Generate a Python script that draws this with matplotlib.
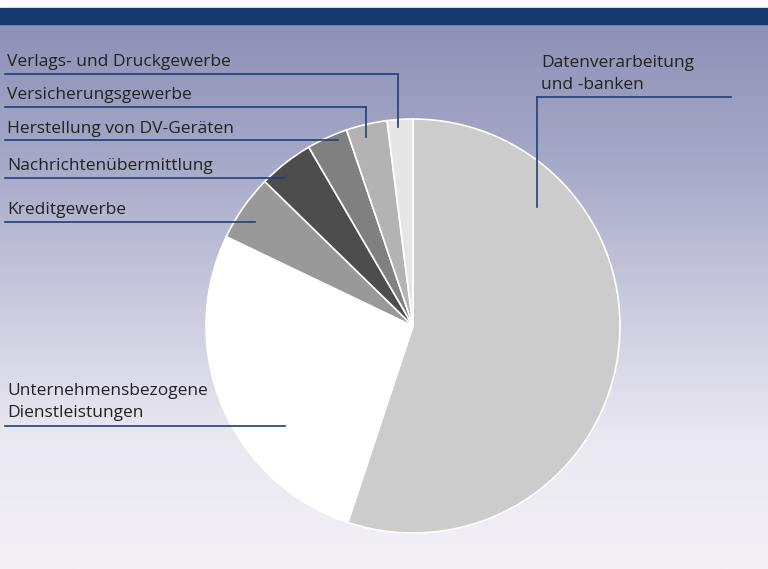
import numpy as np
import matplotlib.pyplot as plt
from matplotlib.colors import LinearSegmentedColormap

plt.rcParams['font.family'] = ['Open Sans', 'DejaVu Sans']

# Anteile (Prozent), im Uhrzeigersinn ab 12 Uhr
branchen = ["Datenverarbeitung\nund -banken", "Unternehmensbezogene\nDienstleistungen",
            "Kreditgewerbe", "Nachrichtenübermittlung", "Herstellung von DV-Geräten",
            "Versicherungsgewerbe", "Verlags- und Druckgewerbe"]
anteile = [55.1, 27.0, 5.2, 4.3, 3.2, 3.2, 2.0]
farben = ["#cccccc", "#ffffff", "#999999", "#4d4d4d", "#808080", "#b3b3b3", "#e6e6e6"]

W, H = 768, 569
fig = plt.figure(figsize=(W / 100, H / 100), dpi=100)
ax = fig.add_axes([0, 0, 1, 1])

# hintergrund: verlauf blaugrau -> fast weiss
bg = LinearSegmentedColormap.from_list("bg", ["#8e91b6", "#a6a8c8", "#c9c9de", "#e9e7f0", "#f3f1f6"])
grad = np.linspace(0, 1, 256).reshape(-1, 1)
ax.imshow(grad, cmap=bg, extent=[0, W, H, 24], aspect="auto", zorder=0)
ax.fill_between([0, W], 8, 24, color="#17396e", zorder=1)

cx, cy, r = 413, 326, 207
# pie in y-down axes: counterclock=True dreht hier im uhrzeigersinn
ax.pie(anteile, colors=farben, startangle=-90, counterclock=True, center=(cx, cy), radius=r,
       wedgeprops=dict(edgecolor="white", linewidth=1.2), frame=True)
ax.set_xlim(0, W)
ax.set_ylim(H, 0)
ax.set_axis_off()
ax.set_aspect("equal")

lc = "#1f3f7a"
fs = 12.5
tc = "#222222"

# beschriftungen links: (text, text-y, linien-y, linien-ende x, vertikal bis y)
links = [
    (branchen[6], 62, 74, 398, 127),
    (branchen[5], 95, 107, 366, 137),
    (branchen[4], 129, 140, 338, None),
    (branchen[3], 166, 178, 285, None),
    (branchen[2], 210, 222, 255, None),
]
for txt, ty, ly, x2, vy in links:
    ax.text(7, ty, txt, fontsize=fs, color=tc, va="center", ha="left")
    ax.plot([5, x2], [ly, ly], color=lc, lw=1.2)
    if vy is not None:
        ax.plot([x2, x2], [ly, vy], color=lc, lw=1.2)

ax.text(7, 402, branchen[1], fontsize=fs, color=tc, va="center", ha="left", linespacing=1.55)
ax.plot([5, 285], [426, 426], color=lc, lw=1.2)

ax.text(541, 74, branchen[0], fontsize=fs, color=tc, va="center", ha="left", linespacing=1.55)
ax.plot([537, 731], [97, 97], color=lc, lw=1.2)
ax.plot([537, 537], [97, 207], color=lc, lw=1.2)

fig.savefig("out.png", dpi=100, facecolor="white")
